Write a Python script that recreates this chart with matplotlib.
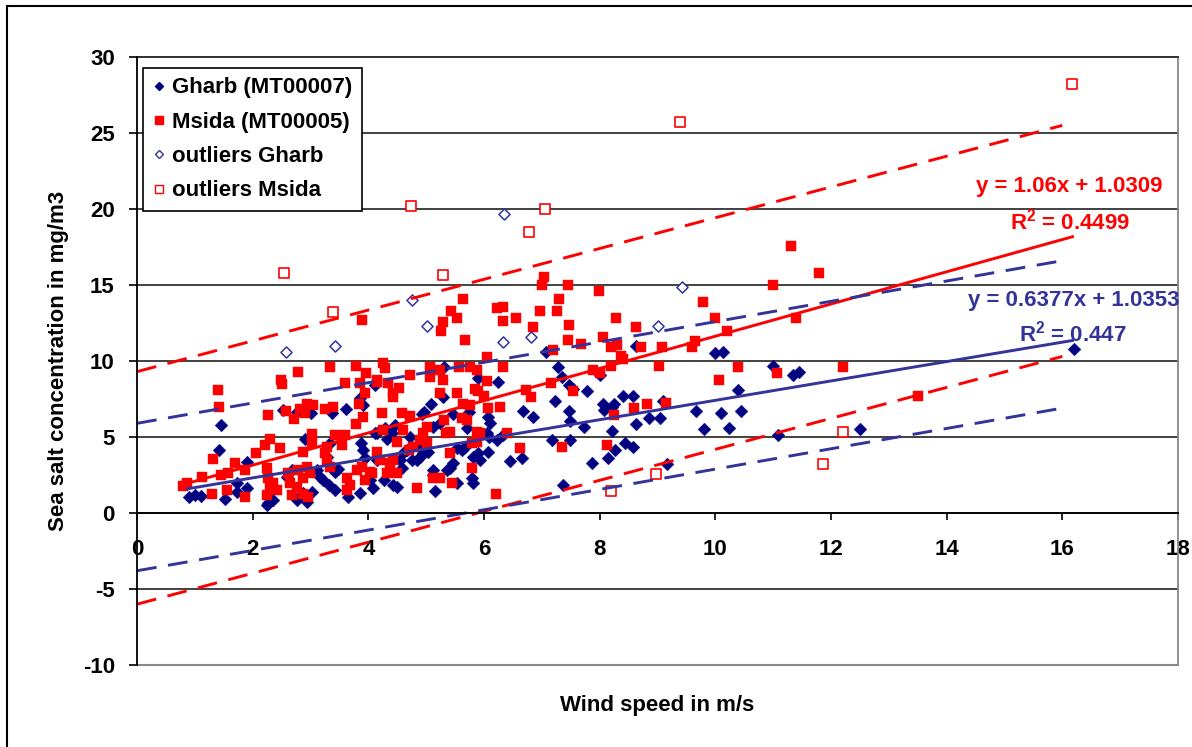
import matplotlib
matplotlib.use("Agg")
import matplotlib.pyplot as plt
import numpy as np
from matplotlib.patches import Rectangle
from matplotlib.lines import Line2D

plt.rcParams['font.family'] = ['Liberation Sans', 'DejaVu Sans']
plt.rcParams['font.weight'] = 'bold'
plt.rcParams['axes.unicode_minus'] = False
plt.rcParams['mathtext.fontset'] = 'custom'
plt.rcParams['mathtext.rm'] = 'Liberation Sans:bold'
plt.rcParams['mathtext.it'] = 'Liberation Sans:bold'
plt.rcParams['mathtext.bf'] = 'Liberation Sans:bold'

# ---------------- data ----------------
gharb_x = [1.45, 1.42, 0.9, 1.11, 1.0, 1.52, 1.73, 1.73, 1.9, 1.9, 2.27, 2.35, 2.25, 2.6, 2.68, 2.77, 2.94,
           2.87, 3.03, 2.53, 2.77, 2.9, 3.0, 3.37, 3.62, 3.34, 3.29, 3.22, 3.32, 3.43, 3.43, 3.48, 3.65,
           3.86, 3.88, 3.91, 3.94, 4.15, 3.86, 3.91, 4.12, 4.15, 4.03, 3.11, 3.17,
           7.28, 7.35, 8.01, 7.47, 7.54, 7.78, 7.23, 5.31, 5.9, 6.25, 5.29, 5.09, 4.97, 5.47, 5.74, 6.07,
           6.1, 6.68, 6.85, 7.47, 8.06, 8.22, 7.73, 7.49, 4.93, 4.12, 4.41, 4.46, 4.29, 4.32, 4.72, 5.12,
           5.24, 5.71, 6.05, 6.09, 6.23, 6.33, 7.18, 7.49, 8.27, 4.6, 4.67, 4.9, 4.95, 5.03, 5.54, 5.62,
           5.67, 4.76, 4.84, 4.9, 4.55, 4.58, 5.47, 5.42, 5.9, 5.93, 5.81, 6.07, 6.45, 6.66, 7.87, 8.15,
           4.27, 4.43, 4.5, 4.08, 5.12, 5.12, 5.36, 5.54, 5.8, 5.81, 5.16, 7.37, 7.08,
           8.63, 10.0, 10.14, 11.0, 11.35, 11.44, 8.4, 8.57, 8.24, 8.08, 9.1, 10.4, 9.67, 10.1, 10.45,
           8.86, 9.05, 8.62, 8.22, 9.8, 10.24, 12.5, 11.09, 8.43, 8.57, 9.17, 16.2]
gharb_y = [5.8, 4.15, 1.05, 1.1, 1.2, 0.9, 2.0, 1.4, 1.65, 3.35, 0.65, 0.85, 0.5, 2.35, 2.85, 0.85, 0.7,
           1.3, 1.4, 6.8, 6.65, 4.9, 6.6, 6.6, 6.85, 4.6, 3.7, 2.15, 1.85, 1.5, 2.7, 2.9, 1.05,
           1.3, 4.6, 4.15, 3.6, 5.25, 7.55, 7.1, 8.4, 3.5, 2.15, 2.85, 2.35,
           9.6, 8.95, 9.1, 8.4, 8.15, 8.0, 7.4, 9.6, 8.9, 8.6, 7.6, 7.2, 6.65, 6.5, 6.65, 6.3,
           5.9, 6.7, 6.3, 6.7, 7.2, 7.0, 5.65, 6.05, 6.5, 5.25, 5.25, 5.8, 5.6, 4.9, 5.0, 5.65,
           5.9, 5.6, 5.25, 5.0, 4.8, 5.1, 4.8, 4.8, 4.15, 3.95, 4.15, 4.35, 3.95, 4.0, 4.3, 4.15,
           4.35, 3.5, 3.5, 3.7, 3.5, 2.95, 3.3, 2.95, 3.95, 3.5, 3.7, 4.0, 3.4, 3.6, 3.3, 3.6,
           2.15, 1.85, 1.7, 1.65, 2.8, 2.5, 2.8, 2.0, 2.3, 2.0, 1.45, 1.85, 10.6,
           11.0, 10.5, 10.6, 9.7, 9.1, 9.3, 7.7, 7.7, 7.2, 6.8, 7.4, 8.1, 6.7, 6.6, 6.7,
           6.25, 6.25, 5.85, 5.4, 5.5, 5.6, 5.5, 5.1, 4.6, 4.35, 3.2, 10.8]

msida_x = [1.4, 1.42, 2.49, 2.51, 2.79, 3.34, 3.79, 3.96, 3.6, 3.86, 3.94, 4.15, 2.27, 2.58, 2.72, 2.82,
           2.94, 3.04, 2.9, 3.25, 3.39, 3.84, 3.91, 3.79, 2.3, 2.21, 2.47, 3.03, 3.03, 2.87, 3.43, 3.6,
           3.29, 3.25, 3.55, 2.06, 1.31, 1.7, 1.87, 1.45, 1.58, 1.12, 0.8, 0.87, 1.3, 1.56, 1.87, 2.25,
           2.27, 2.3, 2.25, 2.35, 2.42, 2.61, 2.65, 2.68, 2.77, 2.79, 2.87, 2.94, 2.99, 2.87, 2.96, 3.29,
           3.34, 3.63, 3.69, 3.63, 3.8, 3.89, 3.94, 4.07, 3.89,
           7.04, 7.0, 7.46, 7.98, 5.64, 7.3, 5.43, 5.54, 6.23, 6.33, 6.32, 6.56, 6.96, 7.27, 7.47, 8.29,
           5.29, 5.26, 6.85, 5.67, 7.46, 7.68, 8.06, 8.2, 8.3, 7.2, 6.05, 4.26, 4.29, 4.72, 5.07, 5.07,
           5.24, 5.29, 5.57, 5.76, 5.88, 6.06, 6.33, 4.15, 4.34, 4.53, 4.43, 4.43, 5.24, 5.54, 5.85, 5.9,
           6.0, 7.15, 7.54, 7.89, 8.0, 6.73, 6.82, 4.24, 4.58, 4.72, 5.64, 5.76, 6.07, 6.28, 5.62, 5.7,
           5.3, 5.02, 4.95, 4.26, 4.6, 5.35, 5.42, 5.88, 5.93, 6.4, 4.9, 5.02, 4.5, 4.7, 4.78, 4.15,
           5.8, 5.88, 5.42, 6.63, 7.35, 4.2, 4.38, 4.43, 4.32, 4.5, 4.03, 5.8, 5.12, 5.24, 4.84, 5.45, 6.21,
           11.8, 11.0, 9.78, 10.0, 8.63, 11.4, 8.72, 9.08, 9.64, 9.6, 10.2, 8.37, 8.4, 8.2, 9.03, 10.4,
           12.2, 11.07, 10.07, 8.6, 8.82, 9.15, 8.24, 8.13, 11.31, 13.5]
msida_y = [8.1, 7.0, 8.75, 8.5, 9.3, 9.6, 9.65, 9.2, 8.55, 8.55, 7.9, 8.75, 6.45, 6.7, 6.2, 6.85,
           7.2, 7.1, 6.6, 6.85, 7.0, 7.2, 6.3, 5.85, 4.9, 4.5, 4.3, 5.2, 4.6, 4.0, 5.1, 5.1,
           4.35, 3.95, 4.5, 3.95, 3.55, 3.3, 2.85, 2.5, 2.6, 2.35, 1.8, 2.0, 1.25, 1.5, 1.05, 2.95,
           2.3, 1.7, 1.2, 2.0, 1.5, 2.6, 2.0, 1.2, 1.7, 2.85, 2.3, 3.0, 2.6, 1.25, 1.05, 3.5,
           3.0, 2.3, 1.85, 1.5, 2.85, 3.0, 2.2, 2.6, 12.7,
           15.5, 15.0, 15.0, 14.6, 14.1, 14.1, 13.3, 12.8, 13.5, 13.55, 12.6, 12.8, 13.3, 13.3, 12.4, 12.8,
           12.55, 12.0, 12.25, 11.4, 11.4, 11.1, 11.6, 10.9, 11.05, 10.7, 10.25, 9.9, 9.55, 9.1, 9.6, 8.95,
           9.4, 8.75, 9.6, 9.6, 9.4, 8.7, 9.6, 8.6, 8.55, 8.2, 7.9, 7.6, 7.9, 7.9, 8.15, 8.0,
           7.7, 8.55, 8.0, 9.4, 9.2, 8.1, 7.6, 6.6, 6.6, 6.4, 7.2, 7.1, 6.9, 7.0, 6.25, 6.1,
           6.1, 5.65, 5.25, 5.45, 5.45, 5.25, 5.3, 5.3, 5.25, 5.25, 4.8, 4.6, 4.7, 4.15, 4.35, 4.0,
           4.6, 4.7, 3.95, 4.3, 4.35, 3.5, 3.3, 3.5, 2.6, 2.6, 2.7, 2.95, 2.3, 2.3, 1.65, 2.0, 1.25,
           15.8, 15.0, 13.9, 12.8, 12.25, 12.8, 10.9, 10.9, 11.3, 10.9, 12.0, 10.3, 10.1, 9.7, 9.7, 9.6,
           9.6, 9.2, 8.75, 6.9, 7.2, 7.25, 6.45, 4.5, 17.55, 7.7]

out_gharb_x = [2.58, 3.43, 4.76, 5.02, 6.33, 6.82, 6.35, 9.0, 9.43]
out_gharb_y = [10.6, 11.0, 14.0, 12.3, 11.25, 11.6, 19.7, 12.3, 14.9]

out_msida_x = [2.54, 3.39, 4.74, 5.29, 6.78, 7.06, 9.39, 16.16, 12.2, 11.87, 8.98, 8.2]
out_msida_y = [15.8, 13.2, 20.2, 15.66, 18.5, 20.0, 25.7, 28.2, 5.3, 3.2, 2.57, 1.45]

# trendlines (from the chart's equations)
msida_slope, msida_icpt, msida_r2 = 1.06, 1.0309, 0.4499
gharb_slope, gharb_icpt, gharb_r2 = 0.6377, 1.0353, 0.447
fit_x = np.array([0.85, 16.2])

# prediction band endpoints
band_x = [0, 16]
msida_upper = [9.3, 25.5]
msida_lower = [-6.0, 10.3]
gharb_upper = [5.9, 16.6]
gharb_lower = [-3.8, 6.9]

x_ticks = [0, 2, 4, 6, 8, 10, 12, 14, 16, 18]
y_ticks = [-10, -5, 0, 5, 10, 15, 20, 25, 30]

NAVY = '#000080'
BLUE = '#333399'
RED = '#FF0000'

# ---------------- figure ----------------
W, H = 1192, 747
fig = plt.figure(figsize=(W / 100, H / 100), dpi=100)
L, R, T, B = 137, 1178, 57, 665
ax = fig.add_axes([L / W, 1 - B / H, (R - L) / W, (B - T) / H])
ax.set_xlim(0, 18)
ax.set_ylim(-10, 30)

# gridlines
for yv in y_ticks:
    ax.axhline(yv, color='#333333', lw=1.3, zorder=1, clip_on=False)

# scatter
ax.scatter(gharb_x, gharb_y, marker='D', s=42, color=NAVY, edgecolors=NAVY, linewidths=0.3, zorder=3)
ax.scatter(msida_x, msida_y, marker='s', s=48, color=RED, edgecolors=RED, linewidths=0.3, zorder=4)
ax.scatter(out_gharb_x, out_gharb_y, marker='D', s=32, facecolors='white', edgecolors=BLUE, linewidths=1.1, zorder=4)
ax.scatter(out_msida_x, out_msida_y, marker='s', s=44, facecolors='white', edgecolors=RED, linewidths=1.2, zorder=4)

# trendlines
ax.plot(fit_x, msida_slope * fit_x + msida_icpt, color=RED, lw=2.1, zorder=6, solid_capstyle='butt')
ax.plot(fit_x, gharb_slope * fit_x + gharb_icpt, color=BLUE, lw=2.1, zorder=6, solid_capstyle='butt')
dash = (0, (6.8, 4.0))
ax.plot(band_x, msida_upper, color=RED, lw=2.1, ls=dash, zorder=6, clip_on=False)
ax.plot(band_x, msida_lower, color=RED, lw=2.1, ls=dash, zorder=6, clip_on=False)
ax.plot(band_x, gharb_upper, color=BLUE, lw=2.1, ls=dash, zorder=6, clip_on=False)
ax.plot(band_x, gharb_lower, color=BLUE, lw=2.1, ls=dash, zorder=6, clip_on=False)

# spines
ax.spines['bottom'].set_position(('data', 0))
ax.spines['bottom'].set_color('black')
ax.spines['bottom'].set_linewidth(1.3)
ax.spines['left'].set_color('black')
ax.spines['left'].set_linewidth(1.3)
ax.spines['top'].set_color('#333333')
ax.spines['top'].set_linewidth(1.3)
ax.spines['right'].set_color('#888888')
ax.spines['right'].set_linewidth(1.3)
ax.axhline(-10, color='#888888', lw=1.5, zorder=2, clip_on=False)
for sp in ['left', 'bottom']:
    ax.spines[sp].set_zorder(7)

ax.set_xticks(x_ticks)
ax.set_yticks(y_ticks)
ax.set_xticklabels([str(v) for v in x_ticks])
ax.set_yticklabels([str(v) for v in y_ticks])
ax.tick_params(axis='x', direction='out', length=5, width=1.2, pad=14, labelsize=16, color='black')
ax.tick_params(axis='y', direction='out', length=6, width=1.2, pad=10, labelsize=16, color='black')
for lab in ax.get_xticklabels() + ax.get_yticklabels():
    lab.set_fontweight('bold')

# equations
ax.text(17.74, 21.45, f'y = {msida_slope:.2f}x + {msida_icpt:.4f}', color=RED, fontsize=16,
        fontweight='bold', ha='right', va='center', zorder=8)
ax.text(16.13, 19.2, r'R$^2$ = ' + f'{msida_r2:.4f}', color=RED, fontsize=16,
        fontweight='bold', ha='center', va='center', zorder=8)
ax.text(18.02, 14.0, f'y = {gharb_slope:.4f}x + {gharb_icpt:.4f}', color=BLUE, fontsize=16,
        fontweight='bold', ha='right', va='center', zorder=8, clip_on=False)
ax.text(16.19, 11.8, r'R$^2$ = ' + f'{gharb_r2:.3f}', color=BLUE, fontsize=16,
        fontweight='bold', ha='center', va='center', zorder=8)

# legend
handles = [
    Line2D([], [], ls='none', marker='D', ms=4.5, color=NAVY, mec=NAVY),
    Line2D([], [], ls='none', marker='s', ms=6, color=RED, mec=RED),
    Line2D([], [], ls='none', marker='D', ms=4.5, mfc='white', mec=BLUE, mew=1),
    Line2D([], [], ls='none', marker='s', ms=6, mfc='white', mec=RED, mew=1),
]
labels = ['Gharb (MT00007)', 'Msida (MT00005)', 'outliers Gharb', 'outliers Msida']
leg = ax.legend(handles, labels, loc='upper left', bbox_to_anchor=(143 / W, 1 - 68 / H),
                bbox_transform=fig.transFigure, prop={'family': 'Liberation Sans', 'weight': 'bold', 'size': 16},
                frameon=True, fancybox=False, shadow=False, borderpad=0.42, labelspacing=0.6,
                handlelength=0.6, handletextpad=0.3, borderaxespad=0, framealpha=1)
leg.get_frame().set_edgecolor('black')
leg.get_frame().set_linewidth(1.2)
leg.set_zorder(10)

# axis titles
fig.text(58.5 / W, 1 - 361 / H, 'Sea salt concentration in mg/m3', rotation=90, ha='center', va='center',
         fontsize=16, fontweight='bold')
fig.text(657 / W, 1 - 706 / H, 'Wind speed in m/s', ha='center', va='center', fontsize=16, fontweight='bold')

# figure frame
fig.patches.append(Rectangle((7 / W, -1), 2, 1 - 6 / H + 1, transform=fig.transFigure,
                             fill=False, edgecolor='black', lw=1.5))

fig.savefig('out.png', dpi=100)
